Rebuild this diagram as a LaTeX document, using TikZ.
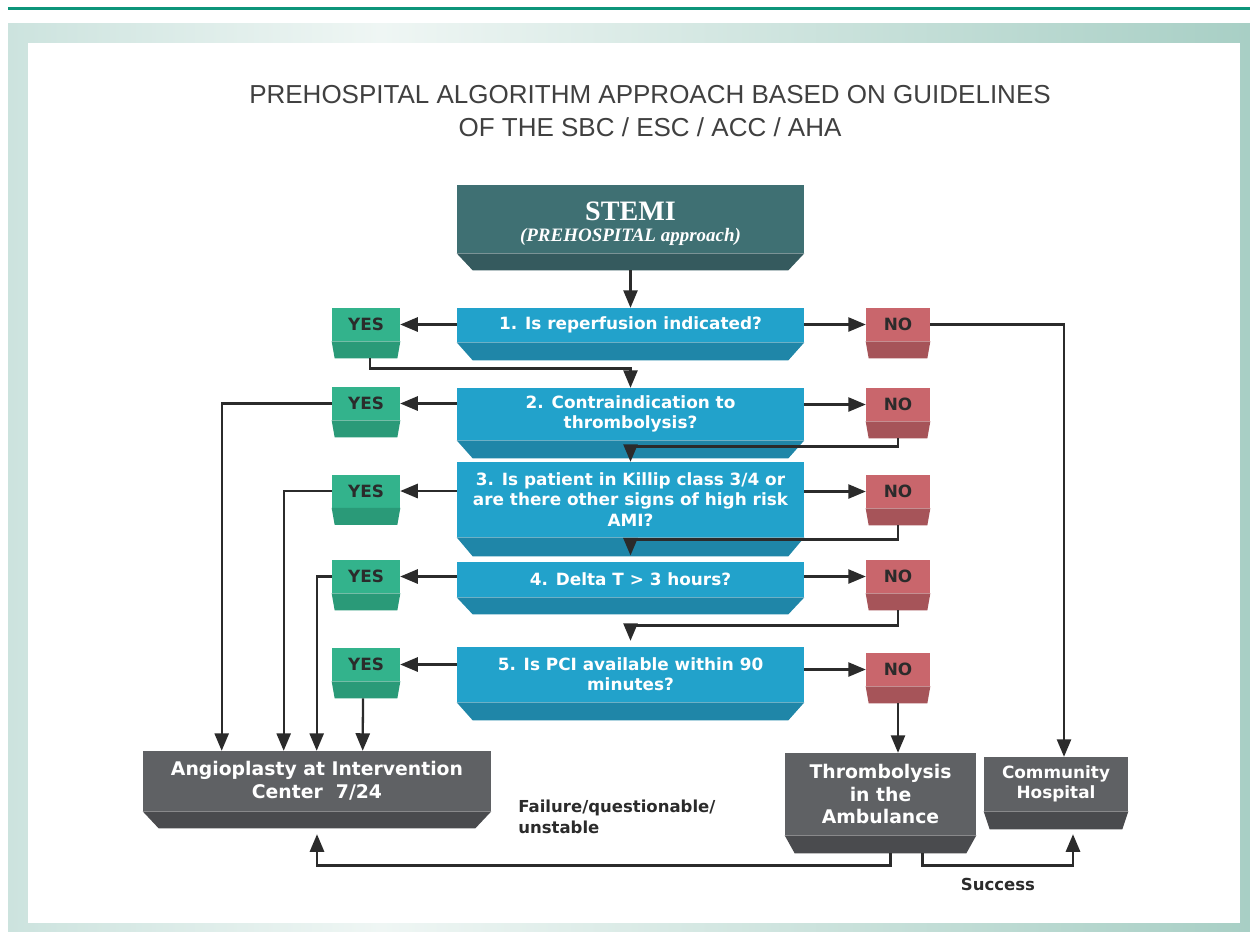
\documentclass[tikz,border=0pt]{standalone}
\usepackage{fontspec}
\setmainfont{DejaVu Sans}
\newfontfamily\titlefont{Liberation Sans}
\newfontfamily\stemifont{Liberation Serif}
\usepackage{xcolor}
\usetikzlibrary{arrows}
\usetikzlibrary{calc}

\definecolor{rule}{HTML}{0D957A}
\definecolor{frameA}{HTML}{CCE3DE}
\definecolor{frameB}{HTML}{EFF6F4}
\definecolor{frameC}{HTML}{A8CFC5}
\definecolor{stemiface}{HTML}{3F7073}
\definecolor{stemibev}{HTML}{355A5E}
\definecolor{qface}{HTML}{22A2CB}
\definecolor{qbev}{HTML}{1F86A8}
\definecolor{yesface}{HTML}{33B38C}
\definecolor{yesbev}{HTML}{2A9A78}
\definecolor{noface}{HTML}{C9666C}
\definecolor{nobev}{HTML}{A65459}
\definecolor{endface}{HTML}{5F6164}
\definecolor{endbev}{HTML}{4A4B4E}
\definecolor{ink}{HTML}{2B2B2B}
\pgfdeclarehorizontalshading{frameshade}{100bp}{color(0bp)=(frameA); color(25bp)=(frameA);
  color(40bp)=(frameB); color(75bp)=(frameC); color(100bp)=(frameC)}

\begin{document}
\begin{tikzpicture}[x=0.02cm, y=-0.02cm, >=triangle 45,
    slab/.style={inner sep=0pt, align=center, text=white},
    ques/.style={slab, fill=qface, minimum width=6.94cm,
      font=\bfseries\fontsize{9.6}{11.5}\selectfont},
    yesbox/.style={slab, fill=yesface, text=ink, minimum width=1.36cm,
      minimum height=0.66cm, font=\bfseries\fontsize{9.6}{11}\selectfont},
    nobox/.style={slab, fill=noface, text=ink, minimum width=1.28cm,
      minimum height=0.66cm, font=\bfseries\fontsize{9.6}{11}\selectfont},
    finish/.style={slab, fill=endface, font=\bfseries\fontsize{10.7}{13}\selectfont},
    arr/.style={->, draw=ink, line width=1.3pt}]
  \useasboundingbox (0,0) rectangle (1250,931);

  % frame
  \fill[rule] (8,7) rectangle (1250,10);
  \shade[shading=frameshade] (8,23) rectangle (1250,931);
  \fill[white] (28,43) rectangle (1240,923);

  \node[align=center, text=ink!90, font=\titlefont\fontsize{14.8}{18.5}\selectfont]
    (title) at (650,111) {PREHOSPITAL ALGORITHM APPROACH BASED ON GUIDELINES\\
    OF THE SBC / ESC / ACC / AHA};

  \node[slab, fill=stemiface, minimum width=6.94cm, minimum height=1.36cm,
    font=\stemifont\bfseries] (stemi) at (630.5,219)
    {\fontsize{16}{18}\selectfont\rule{0pt}{16pt}STEMI\\
     \fontsize{10.8}{17.5}\selectfont\itshape (PREHOSPITAL approach)};

  % questions
  \node[ques, minimum height=0.68cm] (q1) at (630.5,325) {1. Is reperfusion indicated?};
  \node[ques, minimum height=1.04cm] (q2) at (630.5,414) {2. Contraindication to\\thrombolysis?};
  \node[ques, minimum height=1.5cm] (q3) at (630.5,499.5)
    {3. Is patient in Killip class 3/4 or\\are there other signs of high risk\\AMI?};
  \node[ques, minimum height=0.7cm] (q4) at (630.5,579.5) {4. Delta T > 3 hours?};
  \node[ques, minimum height=1.1cm] (q5) at (630.5,674.5) {5. Is PCI available within 90\\minutes?};

  \foreach \i/\y in {1/324.5,2/403.5,3/491,4/576.5,5/664.5}
    \node[yesbox] (yes\i) at (366,\y) {YES};
  \foreach \i/\y in {1/324.5,2/404.5,3/491.5,4/576.5,5/669.5}
    \node[nobox] (no\i) at (898,\y) {NO};

  % end points
  \node[finish, minimum width=6.96cm, minimum height=1.2cm] (ang) at (317,781)
    {Angioplasty at Intervention\\Center\ \ 7/24};
  \node[finish, minimum width=3.82cm, minimum height=1.64cm] (thr) at (880.5,794)
    {Thrombolysis\\in the\\Ambulance};
  \node[finish, minimum width=2.88cm, minimum height=1.08cm,
    font=\bfseries\fontsize{9.6}{11.3}\selectfont] (com) at (1056,784) {Community\\Hospital};

  % bevels
  \foreach \n/\c/\d/\h in {stemi/stemibev/16/17, q1/qbev/16/18, q2/qbev/16/18,
      q3/qbev/16/19, q4/qbev/16/17, q5/qbev/16/18,
      yes1/yesbev/3/17, yes2/yesbev/3/17, yes3/yesbev/3/17, yes4/yesbev/3/17, yes5/yesbev/3/17,
      no1/nobev/3/17, no2/nobev/3/17, no3/nobev/3/17, no4/nobev/3/17, no5/nobev/3/17,
      ang/endbev/16/17, thr/endbev/10/18, com/endbev/6/18}
    \fill[\c] (\n.south west) -- ++(\d,\h) -- ([shift={(-\d,\h)}]\n.south east)
      -- (\n.south east) -- cycle;

  % connectors
  \draw[arr] ([shift={(0,17)}]stemi.south) -- (q1.north);
  \foreach \i in {1,...,5} {
    \draw[arr] (q\i.west |- yes\i.east) -- (yes\i.east);
    \draw[arr] (q\i.east |- no\i.west) -- (no\i.west);
  }
  \draw[arr] ([shift={(4,17)}]yes1.south) -- ++(0,10) -| (q2.north);
  \draw[arr] ([shift={(0,17)}]no2.south) -- ++(0,8) -| (q3.north);
  \draw[arr] ([shift={(0,17)}]no3.south) -- ++(0,14) -| ([shift={(0,18)}]q3.south);
  \draw[arr] ([shift={(0,17)}]no4.south) -- ++(0,15) -| ([shift={(0,-6)}]q5.north);

  \draw[arr] (yes2.west) -| ([shift={(79,0)}]ang.north west);
  \draw[arr] (yes3.west) -| ([shift={(141,0)}]ang.north west);
  \draw[arr] (yes4.west) -| ([shift={(174,0)}]ang.north west);
  \draw[arr] ([shift={(-3,17)}]yes5.south) -- ([shift={(220,0)}]ang.north west);

  \draw[arr] (no1.east) -| ([shift={(8,0)}]com.north);
  \draw[arr] ([shift={(0,17)}]no5.south) -- (thr.north -| no5.south);

  \draw[arr] ([shift={(10,18)}]thr.south) -- ++(0,12) -| ([shift={(0,23)}]ang.south);
  \draw[arr] ([shift={(42,18)}]thr.south) -- ++(0,12) -| ([shift={(17,23)}]com.south);

  \node[anchor=north west, align=left, inner sep=0pt, text=ink,
    font=\bfseries\fontsize{9.4}{11.8}\selectfont]
    (fail) at (518,800) {Failure/questionable/\\unstable};
  \node[text=ink, font=\bfseries\fontsize{9.4}{11}\selectfont] (succ) at (998,884) {Success};
\end{tikzpicture}
\end{document}
